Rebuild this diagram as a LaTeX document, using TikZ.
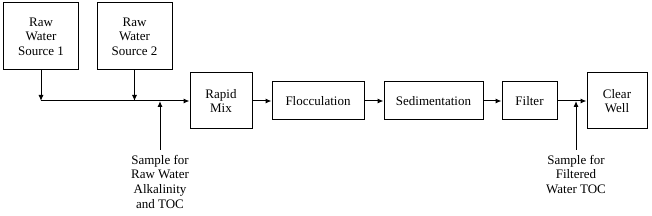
\documentclass[tikz,border=0pt]{standalone}
\usepackage{fontspec}
\setmainfont{Liberation Serif}
\newfontfamily\diagfont{Liberation Serif}
\usetikzlibrary{calc, positioning}
\usetikzlibrary{arrows.meta}

\tikzset{
  unit/.style={draw, line width=1pt, align=center, inner sep=0pt,
    font=\diagfont\fontsize{13}{14.6}\selectfont},
  flow/.style={-{Latex[length=6pt, width=5pt]}, line width=1pt},
  note/.style={align=center, inner sep=0pt, anchor=north,
    font=\diagfont\fontsize{13}{14.6}\selectfont}
}

\begin{document}
\begin{tikzpicture}[x=1pt, y=-1pt]
\useasboundingbox (0,0) rectangle (652,216);
\def\LineY{101}

% sources
\node[unit, minimum width=75pt, minimum height=67pt] (src1) at (41,36.5)
  {Raw\\Water\\Source 1};
\node[unit, minimum width=75pt, minimum height=67pt] (src2) at (134.5,36.5)
  {Raw\\Water\\Source 2};

% treatment train
\node[unit, minimum width=62pt, minimum height=56pt] (mix) at (221,\LineY)
  {Rapid\\Mix};
\node[unit, minimum width=92pt, minimum height=38pt] (floc) at (318,\LineY)
  {Flocculation};
\node[unit, minimum width=99pt, minimum height=38pt] (sed) at (433.5,\LineY)
  {Sedimentation};
\node[unit, minimum width=55pt, minimum height=38pt] (filt) at (529.5,\LineY)
  {Filter};
\node[unit, minimum width=60pt, minimum height=56pt] (well) at (617,\LineY)
  {Clear\\Well};

% sample points
\node[note] (rawsample) at (160,155)
  {Sample for\\Raw Water\\Alkalinity\\and TOC};
\node[note] (filtsample) at (576,155)
  {Sample for\\Filtered\\Water TOC};

\coordinate (j1) at (src1.south |- mix.west);
\coordinate (j2) at (src2.south |- mix.west);
\coordinate (s1) at (rawsample.north |- mix.west);
\coordinate (s2) at (filtsample.north |- mix.west);

\draw[flow] (src1.south) -- (j1);
\draw[flow] (src2.south) -- (j2);
\draw[flow] (j1) -- (mix.west);
\draw[flow] (mix.east) -- (floc.west);
\draw[flow] (floc.east) -- (sed.west);
\draw[flow] (sed.east) -- (filt.west);
\draw[flow] (filt.east) -- (well.west);

\draw[flow] ($(rawsample.north)+(0,-5)$) -- (s1);
\draw[flow] ($(filtsample.north)+(0,-5)$) -- (s2);
\end{tikzpicture}
\end{document}
